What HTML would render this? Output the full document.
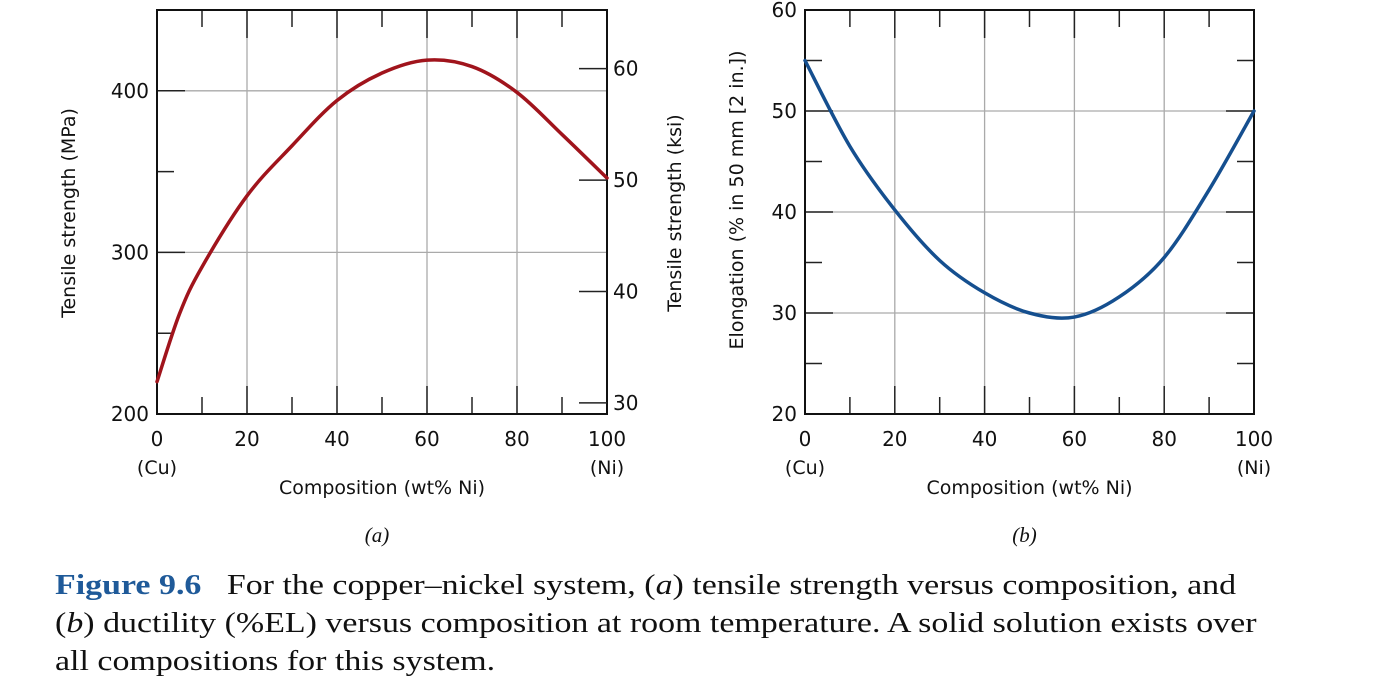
<!DOCTYPE html>
<html><head><meta charset="utf-8">
<style>
html,body{margin:0;padding:0;background:#fff;}
body{width:1390px;height:688px;overflow:hidden;position:relative;}
svg{position:absolute;left:0;top:0;}
.cap{position:absolute;left:55px;font-family:"Liberation Serif",serif;font-size:29px;color:#111;white-space:nowrap;line-height:38px;transform:scaleX(1.17);transform-origin:0 0;}
.fig{color:#1f5a99;font-weight:bold;}
</style></head>
<body>
<svg id="chart" width="1390" height="688"></svg>
<div class="cap" style="top:566px"><span class="fig">Figure 9.6</span>&nbsp;&nbsp; For the copper–nickel system, (<i>a</i>) tensile strength versus composition, and</div>
<div class="cap" style="top:604px">(<i>b</i>) ductility (%EL) versus composition at room temperature. A solid solution exists over</div>
<div class="cap" style="top:642px">all compositions for this system.</div>
<script>
const compA = [0, 5, 10, 20, 30, 40, 50, 60, 70, 80, 90, 100];
const strengthMPa = [220, 262, 291, 335, 366, 394, 411, 419, 415, 399, 373, 346];
const compB = [0, 10, 20, 30, 40, 50, 60, 70, 80, 90, 100];
const elongation = [55, 46.5, 40.2, 35.2, 32, 30, 29.6, 31.6, 35.5, 42.2, 50];
const xTicks = [0, 20, 40, 60, 80, 100];
const mpaTicks = [200, 300, 400];
const ksiTicks = [30, 40, 50, 60];
const elTicks = [20, 30, 40, 50, 60];

const NS = 'http://www.w3.org/2000/svg';
const svg = document.getElementById('chart');
function mk(tag, attrs, parent) {
  const e = document.createElementNS(NS, tag);
  for (const k in attrs) e.setAttribute(k, attrs[k]);
  (parent || svg).appendChild(e);
  return e;
}
function txt(s, x, y, anchor, size, parent) {
  const t = mk('text', {x: x, y: y, 'text-anchor': anchor, 'font-family': 'DejaVu Sans, Liberation Sans, sans-serif', 'font-size': size, fill: '#111'}, parent);
  t.textContent = s;
  return t;
}
function smoothPath(pts) {
  let d = 'M' + pts[0][0] + ',' + pts[0][1];
  for (let i = 0; i < pts.length - 1; i++) {
    const p0 = pts[Math.max(0, i - 1)], p1 = pts[i], p2 = pts[i + 1], p3 = pts[Math.min(pts.length - 1, i + 2)];
    const c1x = p1[0] + (p2[0] - p0[0]) / 6, c1y = p1[1] + (p2[1] - p0[1]) / 6;
    const c2x = p2[0] - (p3[0] - p1[0]) / 6, c2y = p2[1] - (p3[1] - p1[1]) / 6;
    d += ' C' + c1x + ',' + c1y + ' ' + c2x + ',' + c2y + ' ' + p2[0] + ',' + p2[1];
  }
  return d;
}

function panel(cfg) {
  const g = mk('g', {});
  
  
  const L = cfg.left, R = cfg.right, T = 10, B = 414;
  const xs = v => L + (v / 100) * (R - L);
  const ys = v => B - (v - cfg.ymin) / (cfg.ymax - cfg.ymin) * (B - T);
  xTicks.slice(1, -1).forEach(v => {
    const l = mk('line', {x1: xs(v), x2: xs(v), y1: T, y2: B, stroke: '#aaa', 'stroke-width': 1.3}, g);
    
    
  });
  cfg.grid.forEach(v => {
    const l = mk('line', {x1: L, x2: R, y1: ys(v), y2: ys(v), stroke: '#aaa', 'stroke-width': 1.3}, g);
    
    
  });
  for (let v = 10; v < 100; v += 10) {
    const len = (v % 20 === 0) ? 28 : 17;
    mk('line', {x1: xs(v), x2: xs(v), y1: B, y2: B - len, stroke: '#222', 'stroke-width': 1.5}, g);
    mk('line', {x1: xs(v), x2: xs(v), y1: T, y2: T + len, stroke: '#222', 'stroke-width': 1.5}, g);
  }
  cfg.leftTicks.forEach(t => {
    mk('line', {x1: L, x2: L + t[1], y1: ys(t[0]), y2: ys(t[0]), stroke: '#222', 'stroke-width': 1.5}, g);
  });
  if (cfg.rightTicks) cfg.rightTicks.forEach(t => {
    mk('line', {x1: R, x2: R - t[1], y1: ys(t[0]), y2: ys(t[0]), stroke: '#222', 'stroke-width': 1.5}, g);
  });
  const box = mk('rect', {x: L, y: T, width: R - L, height: B - T, fill: 'none', stroke: '#111', 'stroke-width': 2}, g);
  
  
  xTicks.forEach(v => {
    const t = txt(String(v), xs(v), 446, 'middle', 20, g);
    
    
  });
  const cu = txt('(Cu)', L, 474, 'middle', 19, g);
  
  
  const ni = txt('(Ni)', R, 474, 'middle', 19, g);
  
  
  const xt = txt('Composition (wt% Ni)', (L + R) / 2, 494, 'middle', 19, g);
  
  
  const pl = mk('text', {x: (L + R) / 2 - 5, y: 542, 'text-anchor': 'middle', 'font-family': 'Liberation Serif, serif', 'font-style': 'italic', 'font-size': 21, fill: '#111'}, g);
  pl.textContent = cfg.label;
  
  
  cfg.yLabels.forEach(v => {
    const t = txt(String(v), L - 8, ys(v) + 7, 'end', 20, g);
    
    
  });
  const yt = txt(cfg.ytitle, 0, 0, 'middle', 19, g);
  yt.setAttribute('transform', 'translate(' + cfg.ytitleX + ',' + cfg.ytitleY + ') rotate(-90)');
  
  
  const pts = cfg.xs.map((v, i) => [xs(v), ys(cfg.vals[i])]);
  const p = mk('path', {d: smoothPath(pts), fill: 'none', stroke: cfg.color, 'stroke-width': 3.5, 'stroke-linecap': 'round', 'stroke-linejoin': 'round'}, g);
  
  
  return {g, xs, ys, L, R};
}

const A = panel({name: 'chart-a-tensile-strength', left: 157, right: 607, ymin: 200, ymax: 450,
  grid: [300, 400], leftTicks: [[250, 17], [300, 28], [350, 17], [400, 28]],
  yLabels: mpaTicks, ytitle: 'Tensile strength (MPa)', ytitleX: 75, ytitleY: 213, label: '(a)',
  xs: compA, vals: strengthMPa, color: '#a0141c', seriesName: 'tensile-strength-curve'});
const ksiY = k => A.ys(k * 6.895);
ksiTicks.forEach(k => {
  mk('line', {x1: A.R, x2: A.R - 28, y1: ksiY(k), y2: ksiY(k), stroke: '#222', 'stroke-width': 1.5}, A.g);
  const t = txt(String(k), A.R + 6, ksiY(k) + 7, 'start', 20, A.g);
  
  
});
const kt = txt('Tensile strength (ksi)', 0, 0, 'middle', 19, A.g);
kt.setAttribute('transform', 'translate(681,213) rotate(-90)');



panel({name: 'chart-b-elongation', left: 805, right: 1254, ymin: 20, ymax: 60,
  grid: [30, 40, 50], leftTicks: [[25, 17], [30, 28], [35, 17], [40, 28], [45, 17], [50, 28], [55, 17]],
  rightTicks: [[25, 17], [30, 28], [35, 17], [40, 28], [45, 17], [50, 28], [55, 17]],
  yLabels: elTicks, ytitle: 'Elongation (% in 50 mm [2 in.])', ytitleX: 743, ytitleY: 200, label: '(b)',
  xs: compB, vals: elongation, color: '#154f8f', seriesName: 'elongation-curve'});
</script>
</body></html>
